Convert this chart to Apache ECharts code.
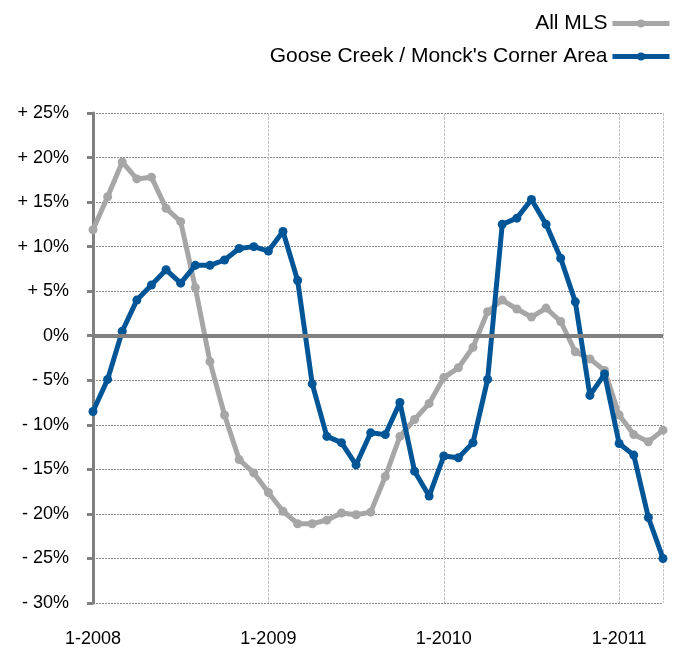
<!DOCTYPE html>
<html>
<head>
<meta charset="utf-8">
<script src="https://cdn.jsdelivr.net/npm/echarts@6/dist/echarts.min.js"></script>
<style>
html,body{margin:0;padding:0;background:#fff;}
#chart{width:683px;height:648px;}
</style>
</head>
<body>
<div id="chart"></div>
<script>
// Months Jan 2008 .. Apr 2011
var startYear = 2008;
var monthCount = 40;
var categories = [];
for (var i = 0; i < monthCount; i++) {
  categories.push(((i % 12) + 1) + '-' + (startYear + Math.floor(i / 12)));
}

var seriesNames = ['All MLS', "Goose Creek / Monck's Corner Area"];

var allMLS = [11.9, 15.6, 19.5, 17.6, 17.8, 14.3, 12.8, 5.4, -2.9, -8.9,
  -13.9, -15.4, -17.6, -19.7, -21.1, -21.1, -20.7, -19.9, -20.1, -19.8,
  -15.8, -11.3, -9.4, -7.6, -4.7, -3.6, -1.3, 2.7, 4.0, 3.0,
  2.1, 3.1, 1.6, -1.8, -2.6, -3.9, -8.9, -11.1, -11.9, -10.6];

var gooseCreek = [-8.5, -4.9, 0.5, 4.0, 5.7, 7.4, 5.9, 7.9, 7.9, 8.5,
  9.8, 10.0, 9.5, 11.7, 6.2, -5.4, -11.3, -12.0, -14.5, -10.9,
  -11.1, -7.5, -15.2, -18.0, -13.5, -13.7, -12.0, -4.9, 12.5, 13.2,
  15.3, 12.5, 8.7, 3.8, -6.7, -4.3, -12.1, -13.4, -20.4, -25.0];

var yMin = -30, yMax = 25, yStep = 5;

var FONT = '"Liberation Sans", Arial, Helvetica, sans-serif';

var chart = echarts.init(document.getElementById('chart'), null, {renderer: 'canvas'});

chart.setOption({
  animation: false,
  backgroundColor: '#ffffff',
  textStyle: {fontFamily: FONT},
  legend: {
    orient: 'vertical',
    right: 6,
    top: 8,
    align: 'right',
    itemWidth: 57,
    itemHeight: 10,
    itemGap: 12,
    lineStyle: {width: 5},
    textStyle: {fontSize: 21, color: '#000', fontFamily: FONT},
    data: seriesNames
  },
  grid: {left: 93, right: 20, top: 113, bottom: 40, containLabel: false},
  xAxis: {
    type: 'category',
    data: categories,
    boundaryGap: false,
    axisLine: {show: false},
    axisTick: {show: false},
    axisLabel: {
      interval: function (idx) { return idx % 12 === 0; },
      fontSize: 18,
      color: '#000',
      margin: 27,
      fontFamily: FONT
    },
    splitLine: {
      show: true,
      interval: function (idx) { return (idx % 12 === 0 && idx > 0) || idx === monthCount - 1; },
      lineStyle: {color: '#c4c4c4', width: 1, type: [3, 1]}
    }
  },
  yAxis: {
    type: 'value',
    min: yMin,
    max: yMax,
    interval: yStep,
    axisLine: {show: true, lineStyle: {color: '#808080', width: 3}},
    axisTick: {show: true, length: 6, lineStyle: {color: '#808080', width: 3}},
    axisLabel: {
      fontSize: 18,
      color: '#000',
      margin: 24,
      fontFamily: FONT,
      formatter: function (v) {
        if (v > 0) return '+ ' + v + '%';
        if (v < 0) return '- ' + Math.abs(v) + '%';
        return '0%';
      }
    },
    splitLine: {show: true, lineStyle: {color: '#8a8a8a', width: 1, type: [2, 1]}}
  },
  series: [
    {
      name: 'zero',
      type: 'line',
      data: [],
      z: 1,
      silent: true,
      markLine: {
        silent: true,
        symbol: ['none', 'none'],
        label: {show: false},
        lineStyle: {color: '#808080', width: 4, type: 'solid'},
        data: [{yAxis: 0}]
      }
    },
    {
      name: seriesNames[0],
      type: 'line',
      data: allMLS,
      z: 3,
      symbol: 'circle',
      symbolSize: 9,
      lineStyle: {color: '#a6a6a6', width: 5},
      itemStyle: {color: '#a6a6a6'}
    },
    {
      name: seriesNames[1],
      type: 'line',
      data: gooseCreek,
      z: 4,
      symbol: 'circle',
      symbolSize: 9,
      lineStyle: {color: '#005596', width: 5},
      itemStyle: {color: '#005596'}
    }
  ]
});
</script>
</body>
</html>
